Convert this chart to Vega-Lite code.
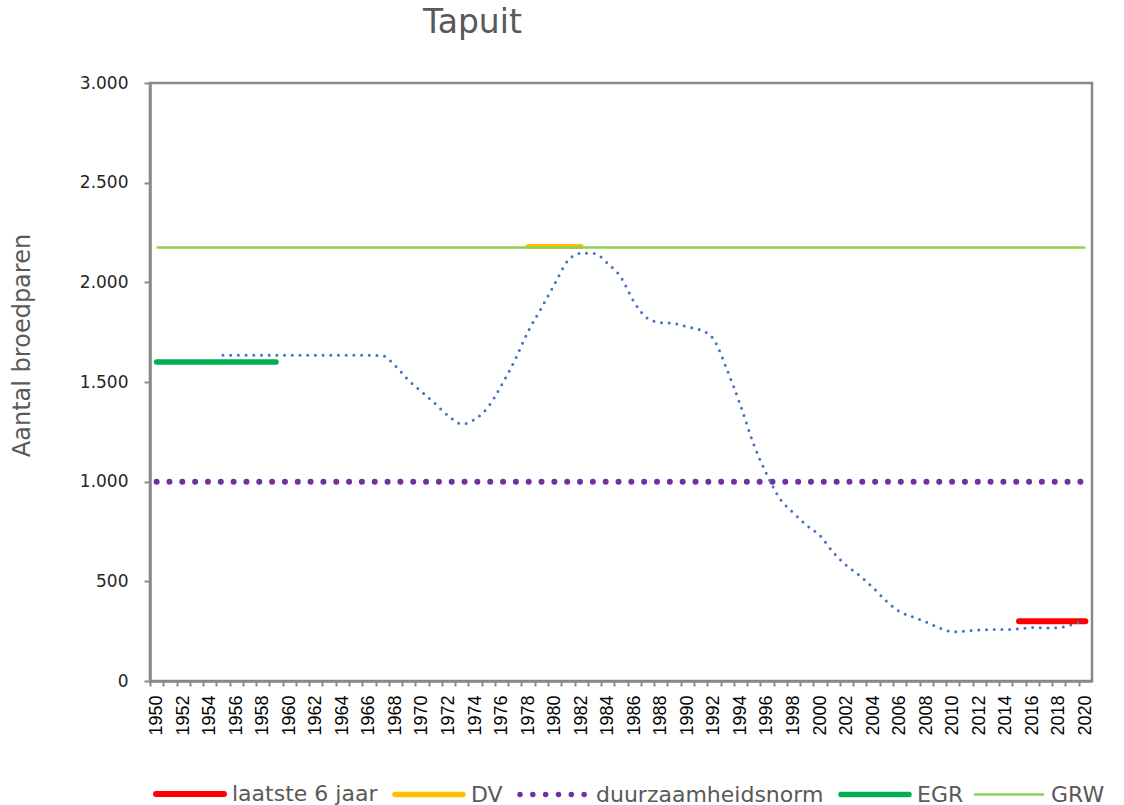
{
  "$schema": "https://vega.github.io/schema/vega-lite/v6.json",
  "width": 942,
  "height": 598,
  "autosize": {"type": "none"},
  "padding": {"left": 150, "top": 83, "right": 32, "bottom": 124},
  "background": "white",
  "title": {
    "text": "Tapuit",
    "anchor": "start",
    "frame": "group",
    "dx": 273,
    "offset": 34,
    "font": "DejaVu Sans",
    "fontSize": 33,
    "fontWeight": "normal",
    "color": "#595959"
  },
  "config": {
    "view": {"stroke": "#898989", "strokeWidth": 2.5},
    "axis": {"grid": false, "domainColor": "#898989", "domainWidth": 2.5, "tickColor": "#898989", "tickWidth": 2}
  },
  "datasets": {
    "ref": [
      {"serie": "laatste 6 jaar", "jaar": 2015, "aantal": 300},
      {"serie": "laatste 6 jaar", "jaar": 2020, "aantal": 300},
      {"serie": "DV", "jaar": 1978, "aantal": 2180},
      {"serie": "DV", "jaar": 1982, "aantal": 2180},
      {"serie": "duurzaamheidsnorm", "jaar": 1950, "aantal": 1000},
      {"serie": "duurzaamheidsnorm", "jaar": 2020, "aantal": 1000},
      {"serie": "EGR", "jaar": 1950, "aantal": 1600},
      {"serie": "EGR", "jaar": 1959, "aantal": 1600},
      {"serie": "GRW", "jaar": 1950, "aantal": 2175},
      {"serie": "GRW", "jaar": 2020, "aantal": 2175}
    ],
    "trend": [
      {"jaar": 1955, "aantal": 1634}, {"jaar": 1956, "aantal": 1634}, {"jaar": 1957, "aantal": 1634},
      {"jaar": 1958, "aantal": 1634}, {"jaar": 1959, "aantal": 1634}, {"jaar": 1960, "aantal": 1634},
      {"jaar": 1961, "aantal": 1634}, {"jaar": 1962, "aantal": 1634}, {"jaar": 1963, "aantal": 1634},
      {"jaar": 1964, "aantal": 1634}, {"jaar": 1965, "aantal": 1634}, {"jaar": 1966, "aantal": 1634},
      {"jaar": 1967, "aantal": 1632}, {"jaar": 1968, "aantal": 1580}, {"jaar": 1969, "aantal": 1508},
      {"jaar": 1970, "aantal": 1450}, {"jaar": 1971, "aantal": 1391}, {"jaar": 1972, "aantal": 1329},
      {"jaar": 1973, "aantal": 1289}, {"jaar": 1974, "aantal": 1314}, {"jaar": 1975, "aantal": 1376},
      {"jaar": 1976, "aantal": 1485}, {"jaar": 1977, "aantal": 1609}, {"jaar": 1978, "aantal": 1754},
      {"jaar": 1979, "aantal": 1871}, {"jaar": 1980, "aantal": 1992}, {"jaar": 1981, "aantal": 2109},
      {"jaar": 1982, "aantal": 2146}, {"jaar": 1983, "aantal": 2144}, {"jaar": 1984, "aantal": 2095},
      {"jaar": 1985, "aantal": 2025}, {"jaar": 1986, "aantal": 1900}, {"jaar": 1987, "aantal": 1820},
      {"jaar": 1988, "aantal": 1798}, {"jaar": 1989, "aantal": 1794}, {"jaar": 1990, "aantal": 1776},
      {"jaar": 1991, "aantal": 1761}, {"jaar": 1992, "aantal": 1712}, {"jaar": 1993, "aantal": 1560},
      {"jaar": 1994, "aantal": 1384}, {"jaar": 1995, "aantal": 1187}, {"jaar": 1996, "aantal": 1035},
      {"jaar": 1997, "aantal": 913}, {"jaar": 1998, "aantal": 843}, {"jaar": 1999, "aantal": 781},
      {"jaar": 2000, "aantal": 729}, {"jaar": 2001, "aantal": 645}, {"jaar": 2002, "aantal": 579},
      {"jaar": 2003, "aantal": 528}, {"jaar": 2004, "aantal": 468}, {"jaar": 2005, "aantal": 401},
      {"jaar": 2006, "aantal": 348}, {"jaar": 2007, "aantal": 321}, {"jaar": 2008, "aantal": 296},
      {"jaar": 2009, "aantal": 266}, {"jaar": 2010, "aantal": 247}, {"jaar": 2011, "aantal": 251},
      {"jaar": 2012, "aantal": 256}, {"jaar": 2013, "aantal": 258}, {"jaar": 2014, "aantal": 258},
      {"jaar": 2015, "aantal": 261}, {"jaar": 2016, "aantal": 268}, {"jaar": 2017, "aantal": 266},
      {"jaar": 2018, "aantal": 268}, {"jaar": 2019, "aantal": 283}, {"jaar": 2020, "aantal": 303}
    ]
  },
  "encoding": {
    "x": {
      "field": "jaar",
      "type": "quantitative",
      "scale": {"domain": [1949.5, 2020.5], "nice": false, "zero": false},
      "axis": {
        "title": null,
        "values": [1950,1951,1952,1953,1954,1955,1956,1957,1958,1959,1960,1961,1962,1963,1964,1965,1966,1967,1968,1969,1970,1971,1972,1973,1974,1975,1976,1977,1978,1979,1980,1981,1982,1983,1984,1985,1986,1987,1988,1989,1990,1991,1992,1993,1994,1995,1996,1997,1998,1999,2000,2001,2002,2003,2004,2005,2006,2007,2008,2009,2010,2011,2012,2013,2014,2015,2016,2017,2018,2019,2020,2021],
        "format": "d",
        "labelExpr": "datum.value % 2 == 0 && datum.value <= 2020 ? datum.label : ''",
        "tickOffset": -6.634,
        "labelOffset": 6.634,
        "labelAngle": -90,
        "labelFont": "Liberation Sans",
        "labelFontSize": 18,
        "labelColor": "#000000",
        "labelPadding": 9,
        "labelOverlap": false,
        "labelBound": false,
        "labelFlush": false,
        "tickSize": 5
      }
    },
    "y": {
      "field": "aantal",
      "type": "quantitative",
      "scale": {"domain": [0, 3000], "nice": false},
      "axis": {
        "title": "Aantal broedparen",
        "values": [0, 500, 1000, 1500, 2000, 2500, 3000],
        "format": ",d",
        "labelExpr": "replace(datum.label, ',', '.')",
        "labelFont": "DejaVu Sans",
        "labelFontSize": 17,
        "labelColor": "#262626",
        "labelPadding": 16,
        "tickSize": 6,
        "titleFont": "DejaVu Sans",
        "titleFontSize": 24,
        "titleFontWeight": "normal",
        "titleColor": "#595959",
        "titleAngle": -90,
        "titleAlign": "center",
        "titleBaseline": "middle",
        "titleX": -128,
        "titleY": 262
      }
    },
    "color": {
      "field": "serie", "type": "nominal",
      "scale": {"domain": ["laatste 6 jaar", "DV", "duurzaamheidsnorm", "EGR", "GRW"], "range": ["#ff0000", "#ffc000", "#7030a0", "#00b050", "#92d050"]},
      "legend": {
        "orient": "none", "legendX": 3, "legendY": 674, "direction": "horizontal", "title": null,
        "symbolType": "stroke", "symbolSize": 4624,
        "labelFont": "DejaVu Sans", "labelFontSize": 22, "labelColor": "#595959",
        "labelOffset": 5, "labelLimit": 400, "columnPadding": 6, "padding": 0,
        "encode": {"symbols": {"update": {
          "strokeCap": {"value": "round"},
          "strokeWidth": {"signal": "(datum.value == 'GRW' ? 2.5 : (datum.value == 'laatste 6 jaar' ? 6 : 5.5))"},
          "strokeDash": {"signal": "(datum.value == 'duurzaamheidsnorm' ? [0, 12.83] : [1, 0])"}
        }}}
      }
    }
  },
  "layer": [
    {
      "data": {"name": "ref"},
      "transform": [{"filter": "datum.serie == 'DV'"}],
      "mark": {"type": "line", "strokeCap": "round", "strokeWidth": 5}
    },
    {
      "data": {"name": "ref"},
      "transform": [{"filter": "datum.serie == 'EGR'"}],
      "mark": {"type": "line", "strokeCap": "round", "strokeWidth": 5.5}
    },
    {
      "data": {"name": "ref"},
      "transform": [{"filter": "datum.serie == 'laatste 6 jaar'"}],
      "mark": {"type": "line", "strokeCap": "round", "strokeWidth": 6}
    },
    {
      "data": {"name": "ref"},
      "transform": [{"filter": "datum.serie == 'duurzaamheidsnorm'"}],
      "mark": {"type": "line", "strokeCap": "round", "strokeWidth": 6, "strokeDash": [0, 12.83]}
    },
    {
      "data": {"name": "ref"},
      "transform": [{"filter": "datum.serie == 'GRW'"}],
      "mark": {"type": "line", "strokeCap": "butt", "strokeWidth": 2.5}
    },
    {
      "data": {"name": "trend"},
      "mark": {"type": "line", "color": "#4472c4", "strokeWidth": 3, "strokeDash": [0, 7.7], "strokeCap": "round", "interpolate": "monotone"},
      "encoding": {"color": {"value": "#4472c4"}}
    }
  ]
}
